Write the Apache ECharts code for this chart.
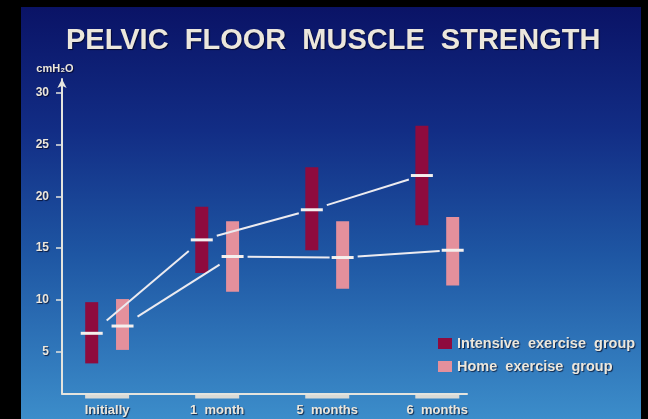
<!DOCTYPE html>
<html><head><meta charset="utf-8">
<script src="https://cdn.jsdelivr.net/npm/echarts@6/dist/echarts.min.js"></script>
<style>html,body{margin:0;padding:0;background:#000}#c{width:648px;height:419px}</style>
</head><body><div id="c"></div>
<script>
const categories = ['Initially', '1 month', '5 months', '6 months'];
const intensiveLow  = [3.9, 12.6, 14.8, 17.2];
const intensiveHigh = [9.8, 19.0, 22.8, 26.8];
const intensiveMean = [6.8, 15.8, 18.7, 22.0];
const homeLow  = [5.2, 10.8, 11.1, 11.4];
const homeHigh = [10.1, 17.6, 17.6, 18.0];
const homeMean = [7.5, 14.2, 14.1, 14.8];
const yTicks = [5, 10, 15, 20, 25, 30];
const seriesNames = ['Intensive exercise group', 'Home exercise group'];

const OFF = 0.14;
const txt = '#ece7dc';
const shadow = {textShadowColor: 'rgba(0,0,20,0.7)', textShadowOffsetX: 1, textShadowOffsetY: 1, textShadowBlur: 1};

function barData(low, high, mean, off) {
  return categories.map((c, i) => [i + off, low[i], high[i], mean[i]]);
}
function segData(mean, off) {
  const out = [];
  for (let i = 0; i < mean.length - 1; i++) out.push([i + off, mean[i], i + 1 + off, mean[i + 1]]);
  return out;
}
function renderBar(params, api) {
  const x = api.value(0);
  const top = api.coord([x, api.value(2)]);
  const bot = api.coord([x, api.value(1)]);
  const m = api.coord([x, api.value(3)]);
  const w = 13;
  return {type: 'group', children: [
    {type: 'rect', shape: {x: top[0] - w / 2, y: top[1], width: w, height: bot[1] - top[1]}, style: {fill: api.visual('color')}},
    {type: 'rect', shape: {x: m[0] - 11, y: m[1] - 1.5, width: 22, height: 3}, style: {fill: '#f4f0ee'}}
  ]};
}
function renderSeg(params, api) {
  const a = api.coord([api.value(0), api.value(1)]);
  const b = api.coord([api.value(2), api.value(3)]);
  const dx = b[0] - a[0], dy = b[1] - a[1];
  const s = 15 / dx, e = 13 / dx;
  return {type: 'line', shape: {x1: a[0] + dx * s, y1: a[1] + dy * s, x2: b[0] - dx * e, y2: b[1] - dy * e},
    style: {stroke: '#ecebf0', lineWidth: 2}};
}
function renderTick(params, api) {
  const p = api.coord([api.value(0), 1]);
  return {type: 'rect', shape: {x: p[0] - 22, y: p[1] + 1.5, width: 44, height: 3.5}, style: {fill: '#d9dad6'}};
}

const chart = echarts.init(document.getElementById('c'));
chart.setOption({
  backgroundColor: '#000',
  animation: false,
  graphic: [{type: 'rect', z: -10, shape: {x: 21, y: 7, width: 620, height: 412},
    style: {fill: new echarts.graphic.LinearGradient(0, 0, 0, 1, [
      {offset: 0, color: '#0a1366'}, {offset: 0.3, color: '#122d85'},
      {offset: 0.6, color: '#1e56a3'}, {offset: 1, color: '#3c8dca'}])}}],
  title: {text: 'PELVIC  FLOOR  MUSCLE  STRENGTH', left: 61, top: 21,
    textStyle: Object.assign({color: txt, fontFamily: 'Liberation Sans', fontWeight: 'bold', fontSize: 29}, shadow)},
  legend: {orient: 'vertical', left: 433, top: 331, itemWidth: 14, itemHeight: 11, itemGap: 8, icon: 'rect',
    data: seriesNames, formatter: n => n.replace(/ /g, '  '),
    textStyle: Object.assign({color: txt, fontFamily: 'Liberation Sans', fontWeight: 'bold', fontSize: 14.5}, shadow)},
  grid: {left: 62, right: 181, top: 79, bottom: 25.5},
  xAxis: {type: 'value', min: -0.41, max: 3.27, splitLine: {show: false},
    axisLine: {onZero: false, lineStyle: {color: '#e4e4de', width: 2}},
    axisTick: {show: false},
    axisLabel: {customValues: [0, 1, 2, 3], formatter: v => categories[Math.round(v)].replace(/ /g, '  '), margin: 10,
      color: txt, fontFamily: 'Liberation Sans', fontWeight: 'bold', fontSize: 13, ...shadow}},
  yAxis: {type: 'value', min: 1, max: 31.3, splitLine: {show: false},
    name: 'cmH₂O', nameLocation: 'end', nameGap: 5,
    nameTextStyle: {color: txt, fontFamily: 'Liberation Sans', fontWeight: 'bold', fontSize: 11, padding: [0, 14, 0, 0], ...shadow},
    axisLine: {show: true, onZero: false, symbol: ['none', 'arrow'], symbolSize: [7, 9], lineStyle: {color: '#e4e4de', width: 2}},
    axisTick: {show: true, customValues: yTicks, length: 6, lineStyle: {color: '#e4e4de', width: 1.5}},
    axisLabel: {customValues: yTicks, margin: 13, color: txt, fontFamily: 'Liberation Sans', fontWeight: 'bold', fontSize: 12, ...shadow}},
  series: [
    {type: 'custom', name: seriesNames[0], renderItem: renderBar, itemStyle: {color: '#8e0b3e'},
      encode: {x: 0, y: [1, 2]}, data: barData(intensiveLow, intensiveHigh, intensiveMean, -OFF), z: 3},
    {type: 'custom', name: seriesNames[1], renderItem: renderBar, itemStyle: {color: '#e4909c'},
      encode: {x: 0, y: [1, 2]}, data: barData(homeLow, homeHigh, homeMean, OFF), z: 3},
    {type: 'custom', renderItem: renderSeg, encode: {x: [0, 2], y: [1, 3]}, data: segData(intensiveMean, -OFF), z: 4, silent: true},
    {type: 'custom', renderItem: renderSeg, encode: {x: [0, 2], y: [1, 3]}, data: segData(homeMean, OFF), z: 4, silent: true},
    {type: 'custom', renderItem: renderTick, encode: {x: 0}, data: categories.map((c, i) => [i]), clip: false, z: 2, silent: true}
  ]
});
</script></body></html>
